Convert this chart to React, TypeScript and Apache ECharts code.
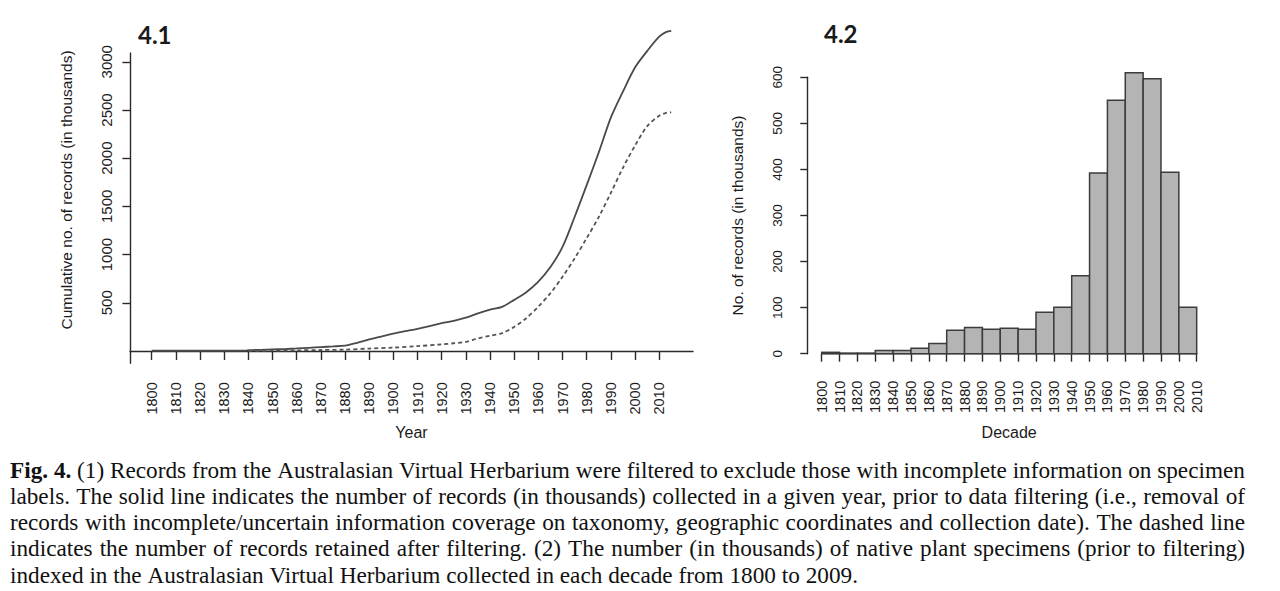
import React, { useEffect, useRef } from "react";
import * as echarts from "echarts";

// ---------- DATA ----------
const solidYears = [1800, 1810, 1820, 1830, 1839, 1840, 1845, 1850, 1855, 1860, 1865, 1870, 1875, 1880, 1885, 1890, 1895, 1900, 1905, 1910, 1915, 1920, 1925, 1930, 1935, 1940, 1945, 1950, 1955, 1960, 1965, 1970, 1975, 1980, 1985, 1990, 1995, 2000, 2005, 2010, 2013, 2015];
const solidValues = [2, 2, 2, 2, 3, 8, 12, 16, 20, 26, 33, 40, 47, 55, 85, 120, 150, 180, 205, 230, 258, 288, 312, 345, 390, 428, 458, 530, 610, 720, 870, 1080, 1390, 1720, 2060, 2420, 2690, 2940, 3110, 3260, 3310, 3320];

const dashedYears = [1840, 1850, 1860, 1870, 1880, 1890, 1900, 1910, 1920, 1925, 1930, 1935, 1940, 1945, 1950, 1955, 1960, 1965, 1970, 1975, 1980, 1985, 1990, 1995, 2000, 2005, 2010, 2013, 2015];
const dashedValues = [1, 3, 6, 10, 14, 25, 35, 50, 68, 80, 95, 130, 158, 185, 250, 340, 460, 600, 770, 960, 1170, 1390, 1640, 1900, 2130, 2330, 2440, 2470, 2475];

const yearTicks = [1800, 1810, 1820, 1830, 1840, 1850, 1860, 1870, 1880, 1890, 1900, 1910, 1920, 1930, 1940, 1950, 1960, 1970, 1980, 1990, 2000, 2010];
const cumulativeTicks = [500, 1000, 1500, 2000, 2500, 3000];

const decades = [1800, 1810, 1820, 1830, 1840, 1850, 1860, 1870, 1880, 1890, 1900, 1910, 1920, 1930, 1940, 1950, 1960, 1970, 1980, 1990, 2000];
const decadeCounts = [3, 1, 1, 7, 7, 12, 22, 51, 57, 53, 55, 53, 90, 101, 169, 392, 550, 610, 597, 394, 101];

const captionLines = [
  "Fig. 4. (1) Records from the Australasian Virtual Herbarium were filtered to exclude those with incomplete information on specimen",
  "labels. The solid line indicates the number of records (in thousands) collected in a given year, prior to data filtering (i.e., removal of",
  "records with incomplete/uncertain information coverage on taxonomy, geographic coordinates and collection date). The dashed line",
  "indicates the number of records retained after filtering. (2) The number (in thousands) of native plant specimens (prior to filtering)",
  "indexed in the Australasian Virtual Herbarium collected in each decade from 1800 to 2009.",
];
const captionBoldWords = 2;

const SANS = "'Liberation Sans', Arial, Helvetica, sans-serif";
const SERIF = "'Liberation Serif', 'Times New Roman', serif";
const TXT = "#1c1c1c";

function buildCaption() {
  const canvas = document.createElement("canvas");
  const ctx = canvas.getContext("2d") as CanvasRenderingContext2D;
  const fs = 24;
  const left = 10;
  const right = 1245;
  const lastRight = 858;
  const top = 470;
  const lh = 26.1;
  const normalFont = `${fs}px ${SERIF}`;
  const boldFont = `bold ${fs}px ${SERIF}`;
  ctx.font = normalFont;
  const spaceW = ctx.measureText(" ").width;
  const lastNatural = ctx.measureText(captionLines[captionLines.length - 1]).width;
  const sx = (lastRight - left) / lastNatural;
  const els: any[] = [];
  captionLines.forEach((line, li) => {
    const words = line.split(" ");
    const fonts = words.map((_, wi) => (li === 0 && wi < captionBoldWords ? boldFont : normalFont));
    const widths = words.map((w, wi) => {
      ctx.font = fonts[wi];
      return ctx.measureText(w).width * sx;
    });
    const total = widths.reduce((a, b) => a + b, 0);
    const last = li === captionLines.length - 1;
    const gap = last ? spaceW * sx : (right - left - total) / (words.length - 1);
    let x = left;
    words.forEach((w, wi) => {
      els.push({
        type: "text",
        x,
        y: top + li * lh,
        scaleX: sx,
        style: { text: w, font: fonts[wi], fill: "#111", textAlign: "left", textVerticalAlign: "middle" },
      });
      x += widths[wi] + gap;
    });
  });
  return els;
}

const plain = (v: number) => String(v);

export default function App() {
  const ref = useRef<HTMLDivElement>(null);
  useEffect(() => {
    if (!ref.current) return;
    const chart = echarts.init(ref.current, undefined, { renderer: "svg" });
    const axisLine = { show: true, lineStyle: { color: "#2a2a2a", width: 1.4 } };
    const option: any = {
      animation: false,
      backgroundColor: "#ffffff",
      grid: [
        { left: 130, top: 53, width: 563, height: 310.3, outerBoundsMode: "none" },
        { left: 821.7, top: 77.3, width: 375, height: 276.4, outerBoundsMode: "none" },
      ],
      xAxis: [
        {
          gridIndex: 0,
          type: "value",
          min: 1791,
          max: 2024,
          name: "Year",
          nameLocation: "middle",
          nameGap: 61,
          nameTextStyle: { fontFamily: SANS, fontSize: 16, color: TXT, verticalAlign: "top" },
          axisLine,
          splitLine: { show: false },
          axisTick: { show: true, length: 9, customValues: yearTicks, lineStyle: { color: "#2a2a2a", width: 1.4 } },
          axisLabel: { customValues: yearTicks, formatter: plain, rotate: 90, margin: 19, fontFamily: SANS, fontSize: 14.5, color: TXT },
        },
        {
          gridIndex: 1,
          type: "value",
          min: 1800,
          max: 2010,
          interval: 10,
          offset: 13,
          name: "Decade",
          nameLocation: "middle",
          nameGap: 58,
          nameTextStyle: { fontFamily: SANS, fontSize: 16, color: TXT, verticalAlign: "top" },
          axisLine,
          splitLine: { show: false },
          axisTick: { show: true, length: 8, lineStyle: { color: "#2a2a2a", width: 1.4 } },
          axisLabel: { formatter: plain, rotate: 90, margin: 14, fontFamily: SANS, fontSize: 14.5, color: TXT, showMinLabel: true, showMaxLabel: true },
        },
      ],
      yAxis: [
        {
          gridIndex: 0,
          type: "value",
          min: -128,
          max: 3091,
          axisLine,
          splitLine: { show: false },
          axisTick: { show: true, length: 7.6, customValues: cumulativeTicks, lineStyle: { color: "#2a2a2a", width: 1.4 } },
          axisLabel: { customValues: cumulativeTicks, formatter: plain, rotate: 90, margin: 16, fontFamily: SANS, fontSize: 15, color: TXT },
        },
        {
          gridIndex: 1,
          type: "value",
          min: 0,
          max: 600,
          interval: 100,
          offset: 14.4,
          name: "No. of records (in thousands)",
          nameLocation: "middle",
          nameGap: 62,
          nameRotate: 90,
          nameTextStyle: { fontFamily: SANS, fontSize: 15.5, color: TXT },
          axisLine,
          splitLine: { show: false },
          axisTick: { show: true, length: 7, lineStyle: { color: "#2a2a2a", width: 1.4 } },
          axisLabel: { formatter: plain, rotate: 90, margin: 23, fontFamily: SANS, fontSize: 13.5, color: TXT },
        },
      ],
      series: [
        {
          type: "line",
          xAxisIndex: 0,
          yAxisIndex: 0,
          data: solidYears.map((y, i) => [y, solidValues[i]]),
          showSymbol: false,
          smooth: 0.3,
          clip: false,
          lineStyle: { color: "#4a4a4a", width: 1.8 },
        },
        {
          type: "line",
          xAxisIndex: 0,
          yAxisIndex: 0,
          data: dashedYears.map((y, i) => [y, dashedValues[i]]),
          showSymbol: false,
          smooth: 0.3,
          clip: false,
          lineStyle: { color: "#555555", width: 1.8, type: [4, 3] },
        },
        {
          type: "custom",
          xAxisIndex: 1,
          yAxisIndex: 1,
          data: decades.map((d, i) => [d, decadeCounts[i]]),
          renderItem: (params: any, api: any) => {
            const x0 = api.value(0);
            const v = api.value(1);
            const p0 = api.coord([x0, 0]);
            const p1 = api.coord([x0 + 10, v]);
            return {
              type: "rect",
              shape: { x: p0[0], y: p1[1], width: p1[0] - p0[0], height: p0[1] - p1[1] },
              style: { fill: "#b4b4b4", stroke: "#3c3c3c", lineWidth: 1.5 },
            };
          },
        },
      ],
      graphic: [
        {
          type: "text",
          x: 138,
          y: 34,
          style: { text: "4.1", font: `bold 24px Lato, 'Open Sans', sans-serif`, fill: "#1a1a1a", textAlign: "left", textVerticalAlign: "middle" },
        },
        {
          type: "text",
          x: 824,
          y: 33,
          style: { text: "4.2", font: `bold 24px Lato, 'Open Sans', sans-serif`, fill: "#1a1a1a", textAlign: "left", textVerticalAlign: "middle" },
        },
        {
          type: "text",
          x: 66.5,
          y: 190,
          rotation: Math.PI / 2,
          style: { text: "Cumulative no. of records (in thousands)", font: `15.5px ${SANS}`, fill: TXT, textAlign: "center", textVerticalAlign: "middle" },
        },
        ...buildCaption(),
      ],
    };
    chart.setOption(option);
    return () => chart.dispose();
  }, []);
  return <div ref={ref} style={{ position: "fixed", left: 0, top: 0, width: 1280, height: 591, background: "#fff" }} />;
}
